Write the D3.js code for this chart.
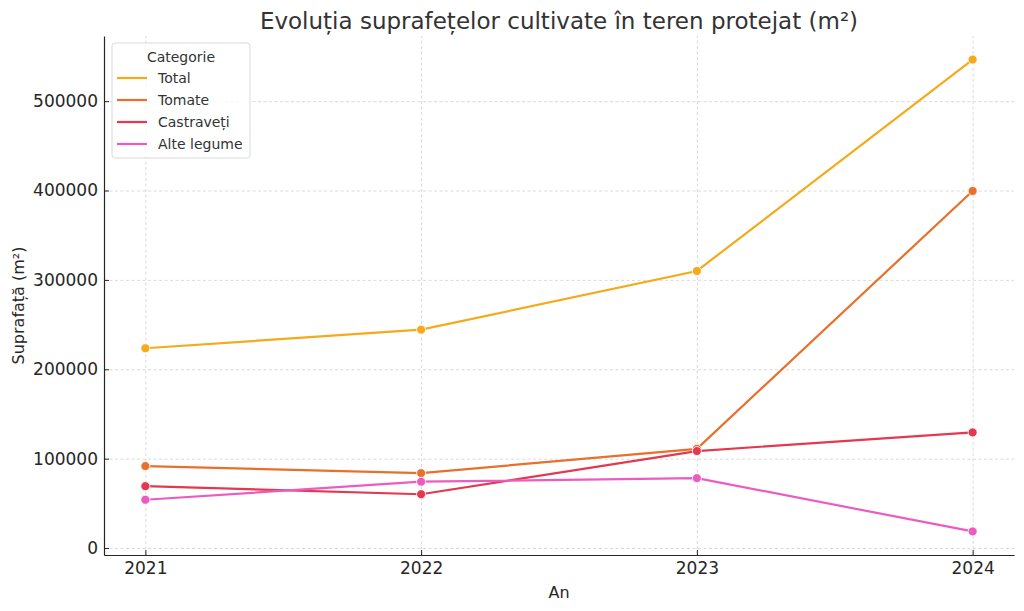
<!DOCTYPE html>
<html>
<head>
<meta charset="utf-8">
<script src="https://cdn.jsdelivr.net/npm/d3@7"></script>
<style>
  body { margin: 0; background: #fff; }
  svg text { font-family: "DejaVu Sans", sans-serif; fill: #262626; }
  .grid line { stroke: #d0d0d0; stroke-dasharray: 3,2.5; stroke-width: 0.8; }
  .grid .domain { display: none; }
  .axis .domain { stroke: #262626; stroke-width: 1.2; }
  .axis .tick line { stroke: #262626; stroke-width: 1; }
</style>
</head>
<body>
<svg id="chart" width="1024" height="611"></svg>
<script>
const years = [2021, 2022, 2023, 2024];
const categories = ['Total', 'Tomate', 'Castraveți', 'Alte legume'];
const colors = ['#f4aa1c', '#e8702a', '#e2394f', '#ec5cc0'];
const total = [223500, 244300, 310000, 546500];
const tomate = [91700, 83800, 111000, 399500];
const castraveti = [69200, 60200, 108500, 129400];
const alteLegume = [54000, 74200, 78200, 18600];
const yTicks = [0, 100000, 200000, 300000, 400000, 500000];

const seriesValues = [total, tomate, castraveti, alteLegume];
const series = categories.map((name, i) => ({
    name: name,
    color: colors[i],
    values: years.map((y, j) => ({ year: y, value: seriesValues[i][j] }))
}));

const width = 1024, height = 611;
const margin = { top: 36, right: 10, bottom: 56, left: 104 };
const innerW = width - margin.left - margin.right;
const innerH = height - margin.top - margin.bottom;

const svg = d3.select('#chart');
const g = svg.append('g').attr('transform', `translate(${margin.left},${margin.top})`);

// matplotlib-style 5% padding on both axes
const xPad = (2024 - 2021) * 0.05;
const x = d3.scaleLinear().domain([2021 - xPad, 2024 + xPad]).range([0, innerW]);
const allVals = seriesValues.flat();
const yMin = d3.min(allVals), yMax = d3.max(allVals);
const yPad = (yMax - yMin) * 0.05;
const y = d3.scaleLinear().domain([yMin - yPad, yMax + yPad]).range([innerH, 0]);

g.append('g').attr('class', 'grid')
    .call(d3.axisLeft(y).tickValues(yTicks).tickSize(-innerW).tickFormat(''));
g.append('g').attr('class', 'grid')
    .attr('transform', `translate(0,${innerH})`)
    .call(d3.axisBottom(x).tickValues(years).tickSize(-innerH).tickFormat(''));

// ticks point inward, like the reference
const xAxis = g.append('g').attr('class', 'axis')
    .attr('transform', `translate(0,${innerH})`)
    .call(d3.axisBottom(x).tickValues(years).tickFormat(d3.format('d'))
        .tickSize(-5).tickSizeOuter(0).tickPadding(7));
xAxis.selectAll('text').attr('font-size', 17).attr('dy', '0.72em');

const yAxis = g.append('g').attr('class', 'axis')
    .call(d3.axisLeft(y).tickValues(yTicks).tickFormat(d3.format('d'))
        .tickSize(-5).tickSizeOuter(0).tickPadding(6));
yAxis.selectAll('text').attr('font-size', 17);

const line = d3.line().x(d => x(d.year)).y(d => y(d.value));

series.forEach(s => {
    g.append('path')
        .datum(s.values)
        .attr('fill', 'none')
        .attr('stroke', s.color)
        .attr('stroke-width', 2.2)
        .attr('d', line);
    g.selectAll(null)
        .data(s.values)
        .enter()
        .append('circle')
        .attr('cx', d => x(d.year))
        .attr('cy', d => y(d.value))
        .attr('r', 4.5)
        .attr('fill', s.color)
        .attr('stroke', '#fff')
        .attr('stroke-width', 0.8);
});

// title and axis labels
svg.append('text')
    .attr('x', margin.left + innerW / 2)
    .attr('y', 29)
    .attr('text-anchor', 'middle')
    .attr('font-size', 23)
    .style('fill', '#333')
    .text('Evoluția suprafețelor cultivate în teren protejat (m²)');

svg.append('text')
    .attr('x', margin.left + innerW / 2)
    .attr('y', 598)
    .attr('text-anchor', 'middle')
    .attr('font-size', 16)
    .text('An');

svg.append('text')
    .attr('transform', `translate(24,${margin.top + innerH / 2 + 10}) rotate(-90)`)
    .attr('text-anchor', 'middle')
    .attr('font-size', 16)
    .text('Suprafață (m²)');

// legend
const legend = svg.append('g').attr('transform', 'translate(112,43)');
legend.append('rect')
    .attr('width', 138)
    .attr('height', 115)
    .attr('rx', 3)
    .attr('fill', '#fff')
    .attr('fill-opacity', 0.8)
    .attr('stroke', '#d9d9d9');
legend.append('text')
    .attr('x', 69)
    .attr('y', 19)
    .attr('text-anchor', 'middle')
    .attr('font-size', 14)
    .style('fill', '#333')
    .text('Categorie');
series.forEach((s, i) => {
    const row = legend.append('g').attr('transform', `translate(0,${35 + i * 22})`);
    row.append('line')
        .attr('x1', 5).attr('x2', 35)
        .attr('stroke', s.color)
        .attr('stroke-width', 2.2);
    row.append('text')
        .attr('x', 46)
        .attr('dy', '0.35em')
        .attr('font-size', 14)
        .style('fill', '#333')
        .text(s.name);
});
</script>
</body>
</html>
